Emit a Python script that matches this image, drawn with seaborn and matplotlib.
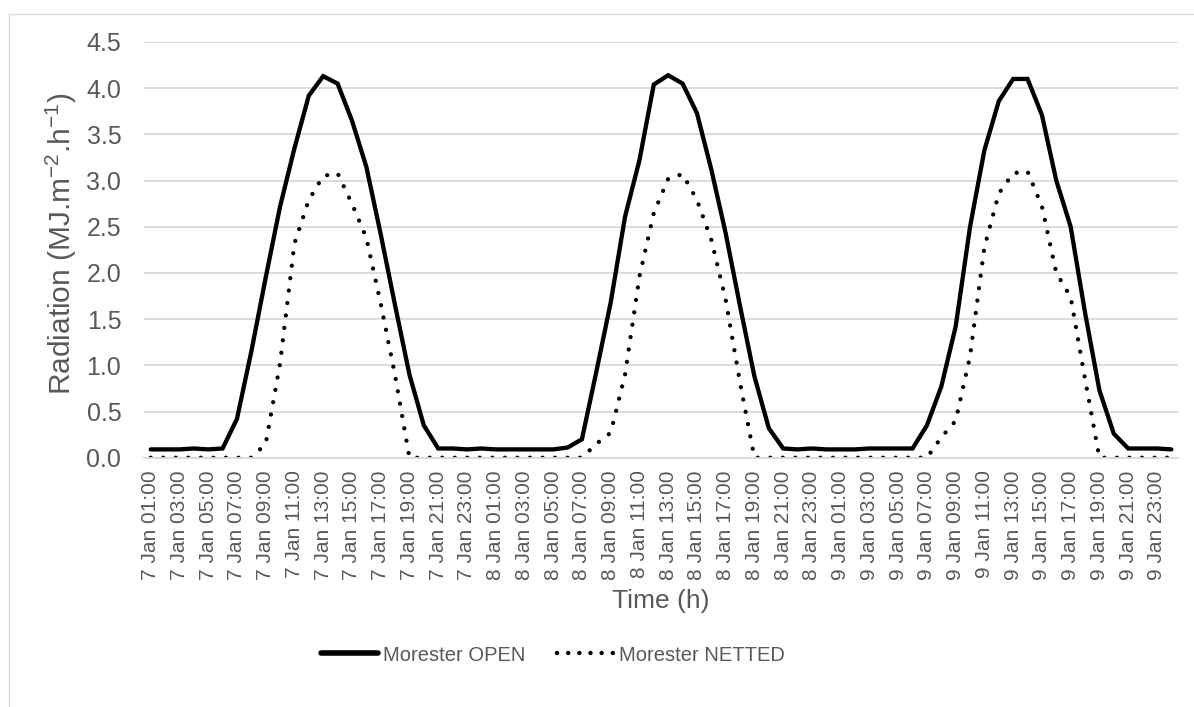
import matplotlib
matplotlib.use("Agg")
import matplotlib.pyplot as plt
import seaborn as sns
import pandas as pd
from matplotlib.lines import Line2D

# ---------------- data ----------------
days = ["7 Jan", "8 Jan", "9 Jan"]
hours = ["01:00", "02:00", "03:00", "04:00", "05:00", "06:00", "07:00", "08:00",
         "09:00", "10:00", "11:00", "12:00", "13:00", "14:00", "15:00", "16:00",
         "17:00", "18:00", "19:00", "20:00", "21:00", "22:00", "23:00", "24:00"]

open_vals = [
    0.09, 0.09, 0.09, 0.10, 0.09, 0.10, 0.42, 1.15, 1.95, 2.72, 3.35, 3.92,
    4.13, 4.05, 3.65, 3.15, 2.42, 1.65, 0.90, 0.35, 0.10, 0.10, 0.09, 0.10,
    0.09, 0.09, 0.09, 0.09, 0.09, 0.11, 0.20, 0.93, 1.68, 2.61, 3.22, 4.04,
    4.14, 4.05, 3.73, 3.12, 2.43, 1.64, 0.88, 0.32, 0.10, 0.09, 0.10, 0.09,
    0.09, 0.09, 0.10, 0.10, 0.10, 0.10, 0.35, 0.77, 1.42, 2.50, 3.33, 3.86,
    4.10, 4.10, 3.71, 3.00, 2.50, 1.57, 0.73, 0.26, 0.10, 0.10, 0.10, 0.09,
]
netted_vals = [
    0.00, 0.00, 0.00, 0.00, 0.00, 0.00, 0.00, 0.00, 0.15, 1.02, 2.32, 2.79,
    3.05, 3.08, 2.75, 2.38, 1.67, 0.89, 0.00, 0.00, 0.00, 0.00, 0.00, 0.00,
    0.00, 0.00, 0.00, 0.00, 0.00, 0.00, 0.00, 0.15, 0.27, 0.90, 1.96, 2.65,
    3.02, 3.07, 2.79, 2.36, 1.71, 0.81, 0.00, 0.00, 0.00, 0.00, 0.00, 0.00,
    0.00, 0.00, 0.00, 0.00, 0.00, 0.00, 0.00, 0.22, 0.40, 1.10, 2.28, 2.86,
    3.08, 3.10, 2.72, 2.00, 1.74, 0.85, 0.00, 0.00, 0.00, 0.00, 0.00, 0.00,
]
series_names = ["Morester OPEN", "Morester NETTED"]
yticks = [0.0, 0.5, 1.0, 1.5, 2.0, 2.5, 3.0, 3.5, 4.0, 4.5]

time_labels = [f"{d} {h}" for d in days for h in hours]
pos = list(range(len(time_labels)))

df = pd.DataFrame({"pos": pos, "open": open_vals, "netted": netted_vals})

# ---------------- style ----------------
sns.set_theme(style="white")
plt.rcParams["font.family"] = ["Liberation Sans", "DejaVu Sans"]
grey = "#595959"
grid_c = "#d9d9d9"

fig = plt.figure(figsize=(11.94, 7.07), dpi=100)
ax = fig.add_axes([0.1202, 0.3526, 0.8668, 0.5880])

sns.lineplot(data=df, x="pos", y="open", ax=ax, color="black", linewidth=3.1,
             solid_joinstyle="miter", solid_capstyle="round", label=series_names[0])
sns.lineplot(data=df, x="pos", y="netted", ax=ax, color="black", linewidth=3.1,
             linestyle=(0, (0.01, 2.9)), dash_capstyle="round", label=series_names[1])

ax.set_xlim(-0.5, len(pos) - 0.5)
ax.set_ylim(0, 4.5)
ax.set_yticks(yticks)
ax.set_yticklabels([f"{v:.1f}" for v in yticks])
ax.set_xticks(pos[::2])
ax.set_xticklabels(time_labels[::2], rotation=90)

ax.yaxis.grid(True, color=grid_c, linewidth=1.3)
ax.xaxis.grid(False)
ax.set_axisbelow(True)
for s in ["top", "right", "left"]:
    ax.spines[s].set_visible(False)
ax.spines["bottom"].set_color(grid_c)
ax.spines["bottom"].set_linewidth(1.3)

ax.tick_params(axis="y", length=0, pad=16, labelsize=18, labelcolor=grey)
ax.tick_params(axis="x", length=0, pad=9, labelsize=15, labelcolor=grey)

ax.set_ylabel(r"Radiation (MJ.m$\mathregular{^{-2}}$.h$\mathregular{^{-1}}$)",
              fontsize=21.5, color=grey)
ax.yaxis.set_label_coords(-0.062, 0.515)
ax.set_xlabel("Time (h)", fontsize=19, color=grey)
ax.xaxis.set_label_coords(0.5, -0.315)

if ax.get_legend():
    ax.get_legend().remove()
handles = [
    Line2D([], [], color="black", linewidth=4, solid_capstyle="round"),
    Line2D([], [], color="black", linewidth=3.2, linestyle=(0, (0.01, 2.5)),
           dash_capstyle="round"),
]
fig.legend(handles, series_names, loc="center", bbox_to_anchor=(553 / 1194, 0.0735),
           ncol=2, frameon=False, fontsize=14.5, labelcolor=grey,
           handlelength=2.8, handletextpad=0.25, columnspacing=1.6)

# chart border (left & top visible)
fig.add_artist(Line2D([8.5 / 1194, 8.5 / 1194], [0, 1 - 13.5 / 707],
                      transform=fig.transFigure, color=grid_c, linewidth=1.0))
fig.add_artist(Line2D([8.5 / 1194, 1], [1 - 13.5 / 707, 1 - 13.5 / 707],
                      transform=fig.transFigure, color=grid_c, linewidth=1.0))

fig.savefig("out.png", dpi=100, facecolor="white")
